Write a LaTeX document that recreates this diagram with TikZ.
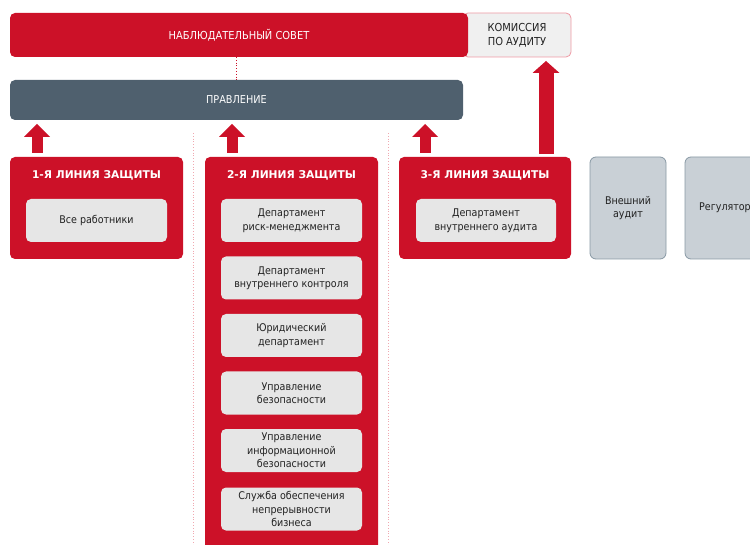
\documentclass[tikz,border=0pt]{standalone}
\usepackage{fontspec}
\setmainfont{DejaVu Sans Condensed}
\newfontfamily\titlefont{DejaVu Sans}
\usetikzlibrary{arrows.meta}
\definecolor{bankred}{HTML}{CC1128}
\definecolor{slate}{HTML}{4F606E}
\definecolor{cellgray}{HTML}{E6E6E6}
\definecolor{extfill}{HTML}{C9D0D6}
\definecolor{extline}{HTML}{8898A4}
\definecolor{commfill}{HTML}{F0F0F0}
\definecolor{commline}{HTML}{EE9AA4}
\definecolor{sepline}{HTML}{F0A8B0}
\definecolor{inktext}{HTML}{222222}
\begin{document}
\begin{tikzpicture}[x=1pt,y=-1pt,
  base/.style={rounded corners=5pt, inner sep=0pt, outer sep=0pt, anchor=north west, align=center},
  redbar/.style={base, fill=bankred, text=white, font=\fontsize{11}{13}\selectfont},
  mgmtbar/.style={base, fill=slate, text=white, font=\fontsize{10.8}{13}\selectfont},
  commbox/.style={base, fill=commfill, draw=commline, line width=0.8pt, text=inktext, font=\fontsize{11}{14}\selectfont},
  linebox/.style={base, fill=bankred, minimum height=102pt},
  linetitle/.style={inner sep=0pt, text=white, font=\titlefont\bfseries\fontsize{10.7}{12}\selectfont},
  cell/.style={base, fill=cellgray, minimum width=141pt, minimum height=43pt, text=inktext, font=\fontsize{10.6}{13.5}\selectfont},
  extbox/.style={base, rounded corners=6pt, fill=extfill, draw=extline, line width=0.8pt, minimum height=102pt, text=inktext, font=\fontsize{10.6}{13.5}\selectfont},
  blockup/.style={draw=bankred, line width=11pt, -{Triangle[width=26pt,length=13pt,line width=0pt]}},
  bigup/.style={draw=bankred, line width=15pt, -{Triangle[width=27pt,length=12pt,line width=0pt]}},
  dots/.style={draw=bankred, dotted, line width=0.8pt},
  separator/.style={draw=sepline, dotted, line width=0.8pt}
]
\useasboundingbox (0,0) rectangle (750,545);

% supervisory board and audit committee
\node[commbox, minimum width=108pt, minimum height=44pt] (comm) at (463,13) {КОМИССИЯ\\ПО АУДИТУ};
\node[redbar, minimum width=458pt, minimum height=44pt] (council) at (10,13) {НАБЛЮДАТЕЛЬНЫЙ СОВЕТ};
\node[mgmtbar, minimum width=453pt, minimum height=40pt] (mgmt) at (10,80) {ПРАВЛЕНИЕ};
\draw[dots] (council.south -| mgmt.north) -- (mgmt.north);

% separators between the lines of defence
\coordinate (sepAtop) at (193,133);
\coordinate (sepAbot) at (193,545);
\coordinate (sepBtop) at (388,133);
\coordinate (sepBbot) at (388,545);
\draw[separator] (sepAtop) -- (sepAbot);
\draw[separator] (sepBtop) -- (sepBbot);

% three lines of defence
\node[linebox, minimum width=173pt] (l1) at (10,157) {};
\node[linebox, minimum width=173pt, minimum height=420pt] (l2) at (205,157) {};
\node[linebox, minimum width=172pt] (l3) at (399,157) {};
\node[linetitle] (t1) at (96.5,175) {1-Я ЛИНИЯ ЗАЩИТЫ};
\node[linetitle] (t2) at (291.5,175) {2-Я ЛИНИЯ ЗАЩИТЫ};
\node[linetitle] (t3) at (485,175) {3-Я ЛИНИЯ ЗАЩИТЫ};

\node[cell] (c1) at (26,199) {Все работники};
\node[cell] (c2a) at (221,199) {Департамент\\риск-менеджмента};
\node[cell] (c2b) at (221,256.5) {Департамент\\внутреннего контроля};
\node[cell] (c2c) at (221,314) {Юридический\\департамент};
\node[cell] (c2d) at (221,371.5) {Управление\\безопасности};
\node[cell] (c2e) at (221,429) {Управление\\информационной\\безопасности};
\node[cell] (c2f) at (221,487.5) {Служба обеспечения\\непрерывности\\бизнеса};
\node[cell, minimum width=140pt] (c3) at (416,199) {Департамент\\внутреннего аудита};

% external parties
\node[extbox, minimum width=76pt] (ext) at (590,157) {Внешний\\аудит};
\node[extbox, minimum width=80pt] (reg) at (685,157) {Регулятор};

% reporting arrows (canvas shifts: positive yshift points up the page)
\draw[blockup] ([xshift=27pt,yshift=4pt]l1.north west) -- ([xshift=27pt,yshift=-4pt]l1.north west |- mgmt.south);
\draw[blockup] ([xshift=27pt,yshift=4pt]l2.north west) -- ([xshift=27pt,yshift=-4pt]l2.north west |- mgmt.south);
\draw[blockup] ([xshift=26pt,yshift=4pt]l3.north west) -- ([xshift=26pt,yshift=-4pt]l3.north west |- mgmt.south);
\draw[bigup] ([xshift=-25pt,yshift=3pt]l3.north east) -- ([xshift=-25pt,yshift=-4pt]l3.north east |- comm.south);
\end{tikzpicture}
\end{document}
